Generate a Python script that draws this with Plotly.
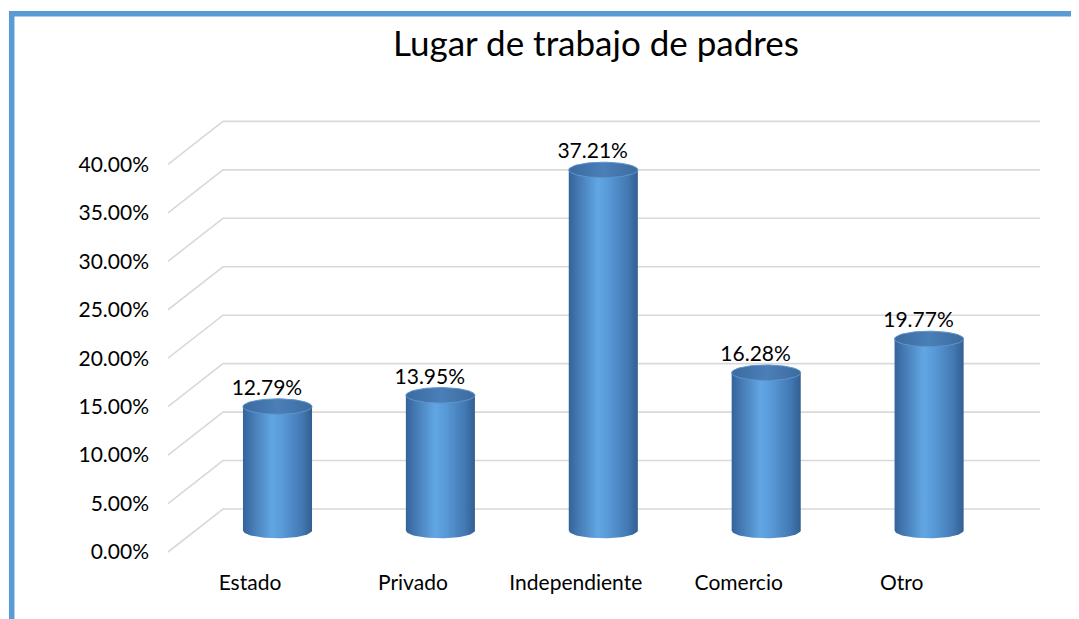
import numpy as np
import plotly.graph_objects as go

categorias = ["Estado", "Privado", "Independiente", "Comercio", "Otro"]
porcentajes = [12.79, 13.95, 37.21, 16.28, 19.77]
ticks_y = [0, 5, 10, 15, 20, 25, 30, 35, 40]

FONT = "Lato"
GRID = "#D9D9D9"

# page has an 8px body margin, so everything is laid out 8px up/left
OFF = 8
W, H_FIG = 1079 - OFF, 619 - OFF

# fake 3D geometry (pixel calibration of the middle plane)
X0_PX, X_STEP = 277.5 - OFF, 162.9     # first cylinder centre, spacing
Y0_PX, Y_STEP = 530.5 - OFF, 9.69      # 0% line, px per 1%
X_RANGE = [-X0_PX / X_STEP, (W - X0_PX) / X_STEP]
Y_RANGE = [-(H_FIG - Y0_PX) / Y_STEP, Y0_PX / Y_STEP]
DX = 27.5 / X_STEP      # half of the depth shift (x)
DY = 21.5 / Y_STEP      # half of the depth shift (y)
WALL_LEFT = (223 - OFF - X0_PX) / X_STEP
WALL_RIGHT = (1040 - OFF - X0_PX) / X_STEP
R = 0.212       # cylinder radius
H = 0.8         # ellipse half height

fig = go.Figure()

# back wall gridlines + diagonal side lines
gx, gy = [], []
for t in ticks_y:
    gx += [WALL_LEFT - 2 * DX, WALL_LEFT, WALL_RIGHT, None]
    gy += [t - DY, t + DY, t + DY, None]
fig.add_trace(go.Scatter(x=gx, y=gy, mode="lines", line=dict(color=GRID, width=1.6),
                         hoverinfo="skip", showlegend=False))

body_scale = [[0, "#33639A"], [0.12, "#4377B0"], [0.42, "#61A6E3"], [0.55, "#5A9CDA"],
              [0.85, "#4379B4"], [1, "#325F90"]]
cap_scale = [[0, "#3B6A9F"], [0.5, "#4A7FB8"], [1, "#3D6C9E"]]

half = np.linspace(0, np.pi, 40)
full = np.linspace(0, 2 * np.pi, 90)
for i, v in enumerate(porcentajes):
    # body with rounded bottom
    xs = list(i - R * np.cos(half)) + [i + R, i - R, i - R]
    ys = list(-H * np.sin(half)) + [v, v, 0]
    fig.add_trace(go.Scatter(x=xs, y=ys, mode="lines", fill="toself", line=dict(width=0),
                             fillgradient=dict(type="horizontal", colorscale=body_scale),
                             hoverinfo="skip", showlegend=False))
    # top cap
    fig.add_trace(go.Scatter(x=i + R * np.cos(full), y=v + H * np.sin(full), mode="lines",
                             fill="toself", line=dict(color="#5E95CD", width=1),
                             fillgradient=dict(type="horizontal", colorscale=cap_scale),
                             hoverinfo="skip", showlegend=False))

# value labels
fig.add_trace(go.Scatter(x=[i - 0.065 for i in range(len(porcentajes))],
                         y=[v + 1.75 for v in porcentajes],
                         mode="text", text=[f"{v:.2f}%" for v in porcentajes],
                         textfont=dict(family=FONT, size=21, color="black"),
                         hoverinfo="skip", showlegend=False))

# invisible trace so the front-plane label axes get drawn
fig.add_trace(go.Scatter(x=[0], y=[0], xaxis="x2", yaxis="y2", mode="markers",
                         marker=dict(opacity=0), hoverinfo="skip", showlegend=False))

fig.update_layout(
    width=W, height=H_FIG,
    margin=dict(l=0, r=0, t=0, b=0),
    paper_bgcolor="white", plot_bgcolor="white",
    showlegend=False,
    title=dict(text="Lugar de trabajo de padres", x=(596 - OFF) / W, y=1 - (44 - OFF) / H_FIG,
               xanchor="center", yanchor="middle",
               font=dict(family=FONT, size=35, color="black")),
    xaxis=dict(range=X_RANGE, visible=False, domain=[0, 1]),
    yaxis=dict(range=Y_RANGE, visible=False, domain=[0, 1]),
    xaxis2=dict(overlaying="x", range=[X_RANGE[0] + DX, X_RANGE[1] + DX],
                tickvals=list(range(len(categorias))), ticktext=categorias,
                anchor="free", position=1 - (568 - OFF) / H_FIG, side="bottom",
                showgrid=False, zeroline=False, showline=False, ticks="",
                tickfont=dict(family=FONT, size=21, color="black")),
    yaxis2=dict(overlaying="y", range=[Y_RANGE[0] + DY, Y_RANGE[1] + DY],
                tickvals=ticks_y, ticktext=[f"{t:.2f}%" for t in ticks_y],
                anchor="free", position=(149 - OFF) / W, side="left",
                showgrid=False, zeroline=False, showline=False, ticks="",
                tickfont=dict(family=FONT, size=21, color="black")),
    shapes=[dict(type="rect", xref="paper", yref="paper",
                 x0=(11.7 - OFF) / W, x1=1.05, y0=-0.05, y1=1 - (13.8 - OFF) / H_FIG,
                 line=dict(color="#5B9BD5", width=5.5), layer="above")],
)

fig.write_html("out.html")
